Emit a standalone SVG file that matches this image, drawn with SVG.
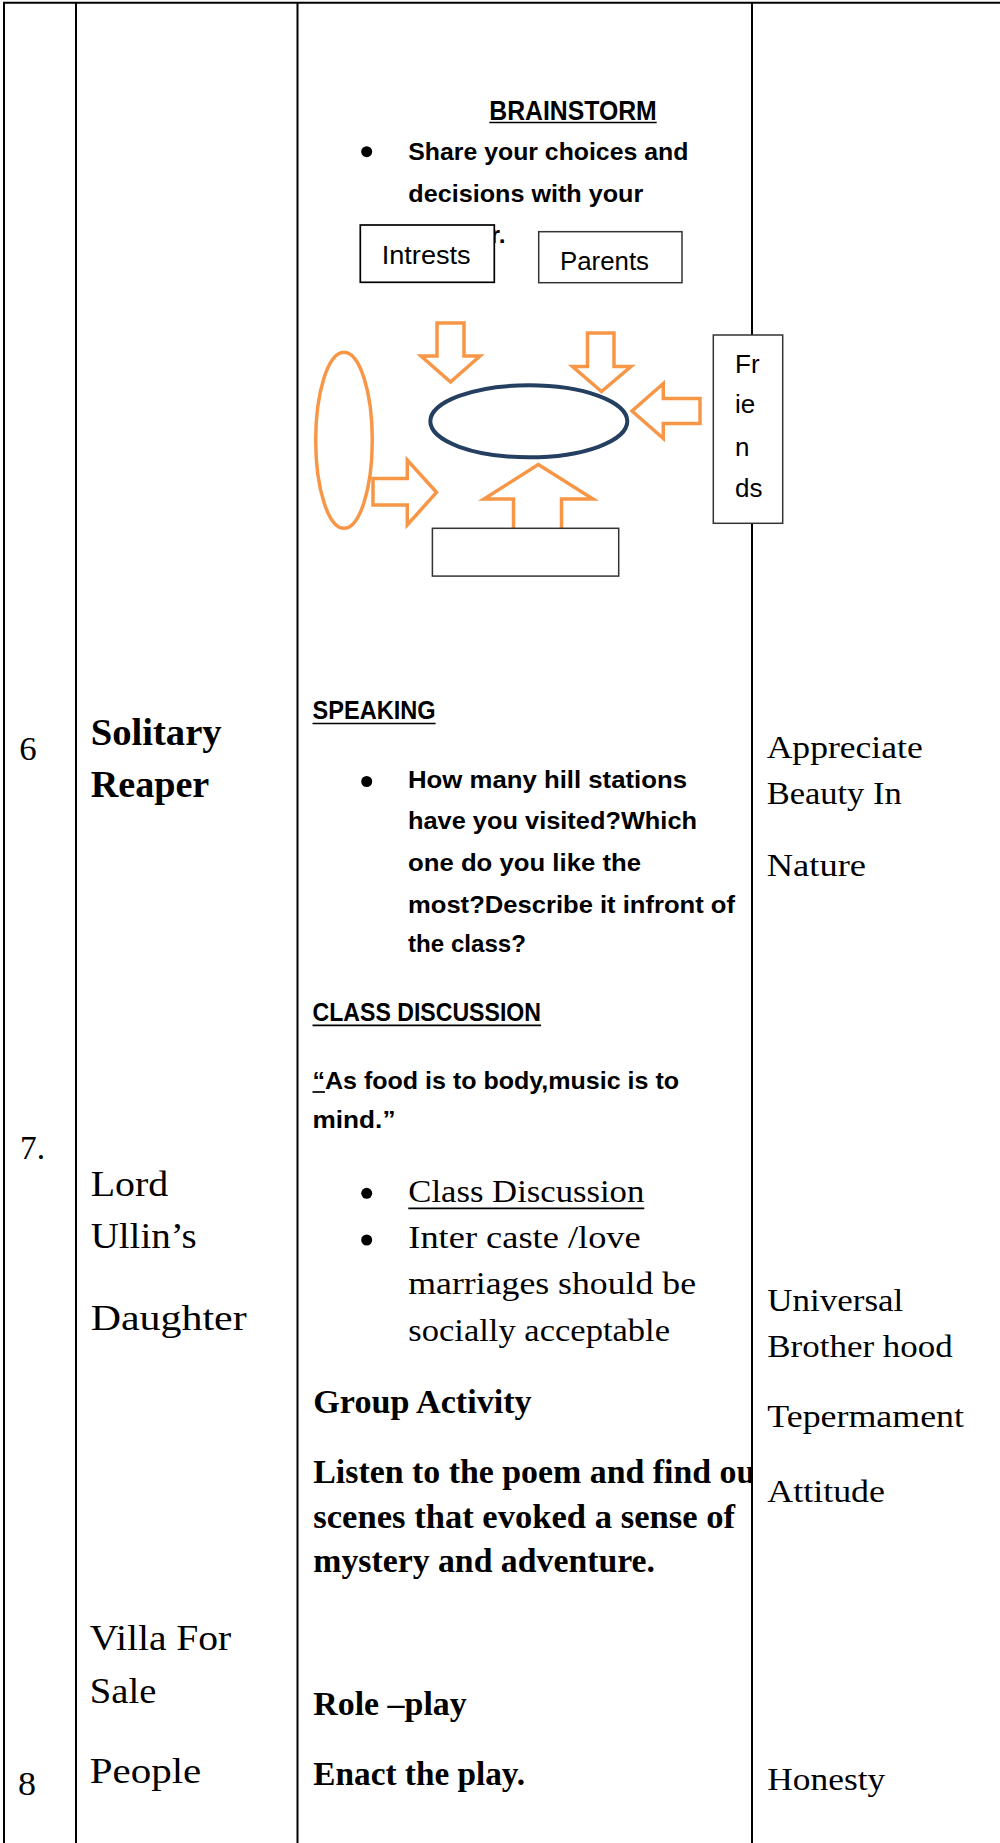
<svg xmlns="http://www.w3.org/2000/svg" width="1000" height="1843" viewBox="0 0 1000 1843">
<style>
.grid{stroke:#000;stroke-width:2;fill:none}
.ul{stroke:#000;stroke-width:1.7}
.sb{font-family:"Liberation Sans",Arial,sans-serif;font-weight:bold;fill:#000}
.sr{font-family:"Liberation Sans",Arial,sans-serif;fill:#000}
.se{font-family:"Liberation Serif","Times New Roman",serif;fill:#000}
.seb{font-family:"Liberation Serif","Times New Roman",serif;font-weight:bold;fill:#000}
.orange{fill:#fff;stroke:#F79646;stroke-width:3.5;stroke-linejoin:miter}
.box{fill:#fff;stroke:#333;stroke-width:1.5}
.boxk{fill:#fff;stroke:#000;stroke-width:1.7}
.navy{fill:#fff;stroke:#243F60;stroke-width:4}
.bul{fill:#000}
</style>
<defs>
<clipPath id="col3clip"><rect x="298" y="1440" width="453" height="70"/></clipPath>
</defs>
<rect x="0" y="0" width="1000" height="1843" fill="#fff"/>

<g id="table-grid">
<line class="grid" x1="3" y1="2.8" x2="1000" y2="2.8"/>
<line class="grid" x1="4" y1="2" x2="4" y2="1843"/>
<line class="grid" x1="76" y1="2" x2="76" y2="1843"/>
<line class="grid" x1="297.5" y1="2" x2="297.5" y2="1843"/>
<line class="grid" x1="752" y1="2" x2="752" y2="1843"/>
</g>

<g id="col-numbers" class="se" font-size="34">
<text x="19.3" y="760" textLength="17.4" lengthAdjust="spacingAndGlyphs">6</text>
<text x="20" y="1159.3" textLength="25" lengthAdjust="spacingAndGlyphs">7.</text>
<text x="18" y="1795" textLength="18" lengthAdjust="spacingAndGlyphs">8</text>
</g>

<g id="col-titles">
<text class="seb" font-size="38" x="90.7" y="745" textLength="131" lengthAdjust="spacingAndGlyphs">Solitary</text>
<text class="seb" font-size="38" x="90.7" y="796.7" textLength="118.6" lengthAdjust="spacingAndGlyphs">Reaper</text>
<text class="se" font-size="35" x="90.7" y="1195.7" textLength="77.6" lengthAdjust="spacingAndGlyphs">Lord</text>
<text class="se" font-size="35" x="90.7" y="1248.3" textLength="106" lengthAdjust="spacingAndGlyphs">Ullin’s</text>
<text class="se" font-size="35" x="90.7" y="1330" textLength="156" lengthAdjust="spacingAndGlyphs">Daughter</text>
<text class="se" font-size="35" x="89.8" y="1649.5" textLength="141.5" lengthAdjust="spacingAndGlyphs">Villa For</text>
<text class="se" font-size="35" x="89.8" y="1702.5" textLength="66.5" lengthAdjust="spacingAndGlyphs">Sale</text>
<text class="se" font-size="35" x="89.8" y="1783.3" textLength="111.5" lengthAdjust="spacingAndGlyphs">People</text>
</g>

<g id="brainstorm-text">
<text class="sb" font-size="27" x="489.3" y="120" textLength="167.4" lengthAdjust="spacingAndGlyphs">BRAINSTORM</text>
<line class="ul" x1="489.3" y1="122.5" x2="656.7" y2="122.5"/>
<circle class="bul" cx="366.7" cy="151.7" r="5.5"/>
<text class="sb" font-size="24.5" x="408.3" y="160" textLength="280" lengthAdjust="spacingAndGlyphs">Share your choices and</text>
<text class="sb" font-size="24.5" x="408.3" y="201.7" textLength="235" lengthAdjust="spacingAndGlyphs">decisions with your</text>
<text class="sb" font-size="24.5" x="490.5" y="242.7">r.</text>
</g>

<g id="connectors">
<polygon id="arrow-down-left" class="orange" points="437,323 464,323 464,356 480,356 450.5,382 421,356 437,356"/>
<polygon id="arrow-down-right" class="orange" points="587.5,333 614,333 614,366.5 631,366.5 601.5,391.5 572.5,366.5 587.5,366.5"/>
<polygon id="arrow-left" class="orange" points="700,398.5 700,423.5 663.3,423.5 663.3,438.5 632,411 663.3,383.5 663.3,398.5"/>
<polygon id="arrow-up" class="orange" points="538.3,464.5 593,499 561.5,499 561.5,530 513.5,530 513.5,499 484,499"/>
</g>

<g id="node-left-ellipse">
<ellipse class="orange" cx="344" cy="440.3" rx="28.3" ry="88"/>
</g>
<g id="arrow-right-group">
<polygon id="arrow-right" class="orange" points="373,478.5 407.3,478.5 407.3,460 436.5,492.3 407.3,525 407.3,505 373,505"/>
</g>

<g id="node-center">
<ellipse class="navy" cx="528.8" cy="421.3" rx="98.5" ry="36"/>
</g>

<g id="node-intrests">
<rect class="boxk" x="360.3" y="225" width="134" height="57.3"/>
<text class="sr" font-size="26.5" x="381.7" y="264" textLength="89" lengthAdjust="spacingAndGlyphs">Intrests</text>
</g>
<g id="node-parents">
<rect class="box" x="538.7" y="231.7" width="143.3" height="51"/>
<text class="sr" font-size="26.5" x="560" y="270" textLength="89" lengthAdjust="spacingAndGlyphs">Parents</text>
</g>
<g id="node-friends">
<rect class="box" x="713.3" y="335" width="69.4" height="188.3"/>
<text class="sr" font-size="26" x="735" y="373.3">Fr</text>
<text class="sr" font-size="26" x="735" y="413.3">ie</text>
<text class="sr" font-size="26" x="735" y="456">n</text>
<text class="sr" font-size="26" x="735" y="496.7">ds</text>
</g>
<g id="node-bottom">
<rect class="box" x="432.4" y="528.3" width="186.3" height="47.8"/>
</g>

<g id="speaking">
<text class="sb" font-size="25" x="312.5" y="719" textLength="123.1" lengthAdjust="spacingAndGlyphs">SPEAKING</text>
<line class="ul" x1="312.5" y1="723.5" x2="435.6" y2="723.5"/>
<circle class="bul" cx="366.7" cy="781.5" r="5.5"/>
<text class="sb" font-size="24.5" x="408" y="788" textLength="279" lengthAdjust="spacingAndGlyphs">How many hill stations</text>
<text class="sb" font-size="24.5" x="408" y="828.8" textLength="289" lengthAdjust="spacingAndGlyphs">have you visited?Which</text>
<text class="sb" font-size="24.5" x="408" y="871" textLength="233" lengthAdjust="spacingAndGlyphs">one do you like the</text>
<text class="sb" font-size="24.5" x="408" y="912.6" textLength="327" lengthAdjust="spacingAndGlyphs">most?Describe it infront of</text>
<text class="sb" font-size="24.5" x="408" y="952" textLength="118" lengthAdjust="spacingAndGlyphs">the class?</text>
</g>

<g id="class-discussion">
<text class="sb" font-size="25" x="312.5" y="1021.3" textLength="228.5" lengthAdjust="spacingAndGlyphs">CLASS DISCUSSION</text>
<line class="ul" x1="312.5" y1="1025.3" x2="541" y2="1025.3"/>
<text class="sb" font-size="24.5" x="312.5" y="1088.6" textLength="366.5" lengthAdjust="spacingAndGlyphs">“As food is to body,music is to</text>
<line class="ul" x1="312.5" y1="1092" x2="325" y2="1092"/>
<text class="sb" font-size="24.5" x="312.5" y="1128" textLength="83" lengthAdjust="spacingAndGlyphs">mind.”</text>
<circle class="bul" cx="366.7" cy="1193.3" r="5.5"/>
<text class="se" font-size="32" x="408.3" y="1201.7" textLength="236" lengthAdjust="spacingAndGlyphs">Class Discussion</text>
<line class="ul" x1="408.3" y1="1208.3" x2="644.3" y2="1208.3"/>
<circle class="bul" cx="366.7" cy="1240" r="5.5"/>
<text class="se" font-size="32" x="408.3" y="1248.3" textLength="232.4" lengthAdjust="spacingAndGlyphs">Inter caste /love</text>
<text class="se" font-size="32" x="408.3" y="1294" textLength="287.7" lengthAdjust="spacingAndGlyphs">marriages should be</text>
<text class="se" font-size="32" x="408.3" y="1340.7" textLength="261.7" lengthAdjust="spacingAndGlyphs">socially acceptable</text>
</g>

<g id="group-activity">
<text class="seb" font-size="33.5" x="313.3" y="1413.3" textLength="218.4" lengthAdjust="spacingAndGlyphs">Group Activity</text>
<g clip-path="url(#col3clip)">
<text class="seb" font-size="33.5" x="313.3" y="1483.3" textLength="442" lengthAdjust="spacingAndGlyphs">Listen to the poem and find ou</text>
</g>
<text class="seb" font-size="33.5" x="313.3" y="1528.3" textLength="421.7" lengthAdjust="spacingAndGlyphs">scenes that evoked a sense of</text>
<text class="seb" font-size="33.5" x="313.3" y="1571.7" textLength="341.7" lengthAdjust="spacingAndGlyphs">mystery and adventure.</text>
</g>

<g id="role-play">
<text class="seb" font-size="33.5" x="313.3" y="1715" textLength="153.4" lengthAdjust="spacingAndGlyphs">Role –play</text>
<text class="seb" font-size="33.5" x="313.3" y="1785" textLength="211.7" lengthAdjust="spacingAndGlyphs">Enact the play.</text>
</g>

<g id="col-values" class="se" font-size="31">
<text x="766.7" y="758.3" textLength="156" lengthAdjust="spacingAndGlyphs">Appreciate</text>
<text x="766.7" y="804" textLength="135" lengthAdjust="spacingAndGlyphs">Beauty In</text>
<text x="766.7" y="876" textLength="99.3" lengthAdjust="spacingAndGlyphs">Nature</text>
<text x="767.3" y="1311" textLength="136" lengthAdjust="spacingAndGlyphs">Universal</text>
<text x="767.3" y="1356.7" textLength="185.4" lengthAdjust="spacingAndGlyphs">Brother hood</text>
<text x="767.3" y="1426.7" textLength="196.7" lengthAdjust="spacingAndGlyphs">Tepermament</text>
<text x="767.3" y="1501.7" textLength="117.7" lengthAdjust="spacingAndGlyphs">Attitude</text>
<text x="767.3" y="1790" textLength="118" lengthAdjust="spacingAndGlyphs">Honesty</text>
</g>
</svg>
